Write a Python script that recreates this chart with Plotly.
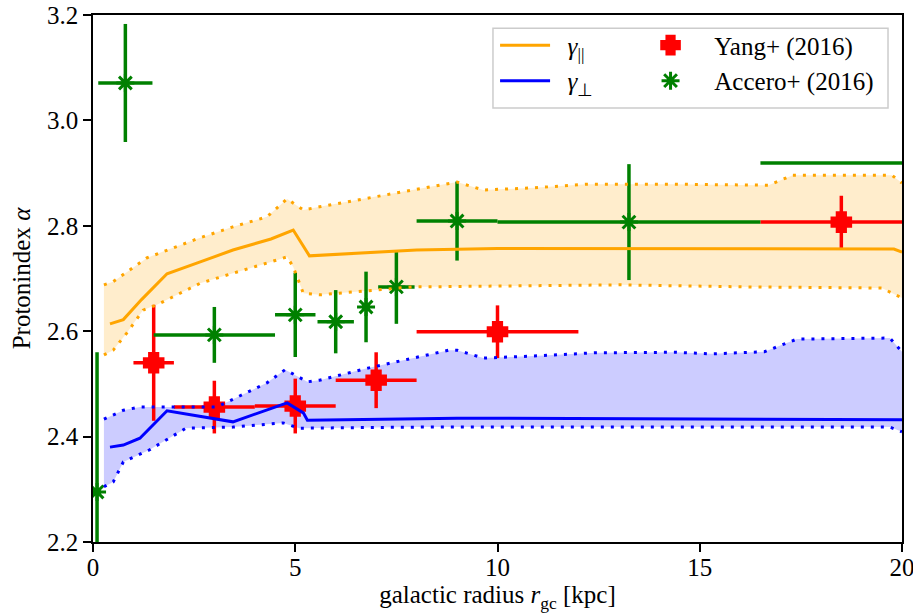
import plotly.graph_objects as go

# ---- gamma parallel (orange) ----
r_par = [0.42, 0.75, 1.2, 1.83, 2.6, 3.46, 4.4, 4.95, 5.35, 6.5, 8, 10, 12, 14, 16, 18, 19.8, 20]
a_par = [2.614, 2.622, 2.66, 2.709, 2.73, 2.754, 2.775, 2.792, 2.743, 2.748, 2.754, 2.757, 2.757, 2.756, 2.757, 2.756, 2.756, 2.750]
r_par_hi = [0.27, 0.5, 1.33, 1.83, 2.6, 3.46, 4.3, 4.8, 5.2, 5.6, 7.3, 9.0, 9.65, 10.9, 12.2, 14.3, 16.7, 17.3, 19.75, 20]
a_par_hi = [2.688, 2.694, 2.739, 2.754, 2.776, 2.798, 2.817, 2.851, 2.830, 2.836, 2.86, 2.883, 2.868, 2.872, 2.879, 2.879, 2.877, 2.896, 2.896, 2.881]
r_par_lo = [0.27, 0.5, 0.83, 1.24, 1.58, 2.65, 3.46, 4.3, 4.8, 4.95, 5.2, 5.6, 7.9, 13, 16.2, 19.5, 20]
a_par_lo = [2.555, 2.564, 2.596, 2.64, 2.65, 2.691, 2.71, 2.729, 2.741, 2.722, 2.672, 2.669, 2.684, 2.688, 2.684, 2.682, 2.663]

# ---- gamma perpendicular (blue) ----
r_perp = [0.42, 0.75, 1.16, 1.83, 3.46, 4.8, 5.2, 5.3, 9.0, 14, 20]
a_perp = [2.380, 2.384, 2.397, 2.449, 2.428, 2.464, 2.445, 2.431, 2.435, 2.434, 2.432]
r_perp_hi = [0.27, 0.75, 1.16, 3.06, 4.3, 4.75, 5.3, 5.6, 6.8, 8.8, 9.0, 9.65, 10.9, 12.4, 14.4, 15.3, 16.6, 17.4, 19.7, 20]
a_perp_hi = [2.433, 2.450, 2.456, 2.456, 2.502, 2.527, 2.504, 2.507, 2.530, 2.564, 2.564, 2.549, 2.553, 2.559, 2.560, 2.557, 2.561, 2.585, 2.587, 2.561]
r_perp_lo = [0.27, 0.5, 0.75, 1.4, 2.3, 3.46, 4.7, 5.1, 8, 14, 19.7, 20]
a_perp_lo = [2.305, 2.314, 2.352, 2.375, 2.416, 2.418, 2.426, 2.416, 2.418, 2.418, 2.418, 2.409]

# ---- Yang+ (2016) ----
yang_r = [1.5, 3.0, 5.0, 7.0, 10.0, 18.5]
yang_a = [2.540, 2.456, 2.458, 2.507, 2.599, 2.807]
yang_xerr = [0.5, 1.0, 1.0, 1.0, 2.0, 2.0]
yang_yerr = [0.11, 0.05, 0.052, 0.053, 0.05, 0.05]

# ---- Accero+ (2016) ----
acc_r = [0.1, 0.8, 3.0, 5.0, 6.0, 6.75, 7.5, 9.0, 13.25, 24.5]
acc_a = [2.295, 3.071, 2.593, 2.631, 2.618, 2.646, 2.684, 2.809, 2.807, 2.919]
acc_xerr = [0.1, 0.67, 1.5, 0.5, 0.45, 0.1, 0.45, 1.0, 3.25, 8.0]
acc_yerr = [0.265, 0.112, 0.053, 0.08, 0.06, 0.067, 0.07, 0.075, 0.11, 0.1]

x_ticks = [0, 5, 10, 15, 20]
y_ticks = [2.2, 2.4, 2.6, 2.8, 3.0, 3.2]

ORANGE = "#FFA500"
BLUE = "#0000FF"
RED = "#FF0000"
GREEN = "#008000"
FONT = "Liberation Serif"
FS = 25
DOT = "3px,7px"
NB = "\u00a0"
LW = 3
EW = 3.5

fig = go.Figure()

# bands
fig.add_trace(go.Scatter(x=r_par_hi + r_par_lo[::-1], y=a_par_hi + a_par_lo[::-1],
                         fill="toself", fillcolor="rgba(255,165,0,0.2)", mode="none",
                         showlegend=False, hoverinfo="skip"))
fig.add_trace(go.Scatter(x=r_perp_hi + r_perp_lo[::-1], y=a_perp_hi + a_perp_lo[::-1],
                         fill="toself", fillcolor="rgba(0,0,255,0.2)", mode="none",
                         showlegend=False, hoverinfo="skip"))

# data points
fig.add_trace(go.Scatter(x=yang_r, y=yang_a, mode="markers", name=NB * 3 + "Yang+ (2016)",
                         legend="legend2",
                         marker=dict(symbol="cross", size=13, color=RED, line=dict(color=RED, width=6)),
                         error_x=dict(type="data", array=yang_xerr, color=RED, thickness=EW, width=0),
                         error_y=dict(type="data", array=yang_yerr, color=RED, thickness=EW, width=0)))
fig.add_trace(go.Scatter(x=acc_r, y=acc_a, mode="markers", name=NB * 3 + "Accero+ (2016)",
                         legend="legend2",
                         marker=dict(symbol="asterisk-open", size=15, color=GREEN, line=dict(color=GREEN, width=3)),
                         error_x=dict(type="data", array=acc_xerr, color=GREEN, thickness=EW, width=0),
                         error_y=dict(type="data", array=acc_yerr, color=GREEN, thickness=EW, width=0)))

# lines
fig.add_trace(go.Scatter(x=r_par, y=a_par, mode="lines", name=NB * 2 + "<i>γ</i><sub>||</sub>",
                         line=dict(color=ORANGE, width=LW), legend="legend"))
fig.add_trace(go.Scatter(x=r_perp, y=a_perp, mode="lines", name=NB * 2 + "<i>γ</i><sub>⊥</sub>",
                         line=dict(color=BLUE, width=LW), legend="legend"))
fig.add_trace(go.Scatter(x=r_par_hi, y=a_par_hi, mode="lines", showlegend=False,
                         line=dict(color=ORANGE, width=LW, dash=DOT)))
fig.add_trace(go.Scatter(x=r_par_lo, y=a_par_lo, mode="lines", showlegend=False,
                         line=dict(color=ORANGE, width=LW, dash=DOT)))
fig.add_trace(go.Scatter(x=r_perp_hi, y=a_perp_hi, mode="lines", showlegend=False,
                         line=dict(color=BLUE, width=LW, dash=DOT)))
fig.add_trace(go.Scatter(x=r_perp_lo, y=a_perp_lo, mode="lines", showlegend=False,
                         line=dict(color=BLUE, width=LW, dash=DOT)))

axis_common = dict(showline=True, mirror=True, linecolor="black", linewidth=1.5,
                   ticks="outside", ticklen=8, tickwidth=1.5, tickcolor="black",
                   showgrid=False, zeroline=False, automargin=False,
                   ticklabeloverflow="allow",
                   tickfont=dict(family=FONT, size=FS, color="black"))

fig.update_layout(
    width=913, height=615,
    margin=dict(l=93, r=11, t=15, b=73),
    plot_bgcolor="white", paper_bgcolor="white",
    font=dict(family=FONT, size=FS, color="black"),
    xaxis=dict(range=[0, 20], tickvals=x_ticks, ticktext=[str(v) for v in x_ticks],
               ticklabelstandoff=-6,
               title=dict(text="galactic radius <i>r</i><sub>gc</sub> [kpc]",
                          font=dict(family=FONT, size=FS), standoff=6),
               **axis_common),
    yaxis=dict(range=[2.2, 3.2], tickvals=y_ticks, ticktext=[f"{v:.1f}" for v in y_ticks],
               **axis_common),
    annotations=[dict(text="Protonindex <i>α</i>", xref="paper", yref="paper",
                      x=-0.088, y=0.5, xanchor="center", yanchor="middle", textangle=-90,
                      showarrow=False, font=dict(family=FONT, size=FS, color="black"))],
    legend=dict(x=0.497, y=0.986, xanchor="left", yanchor="top", bgcolor="rgba(0,0,0,0)",
                borderwidth=0, itemwidth=50, font=dict(family=FONT, size=FS), tracegroupgap=0),
    legend2=dict(x=0.683, y=0.986, xanchor="left", yanchor="top", bgcolor="rgba(0,0,0,0)",
                 borderwidth=0, itemwidth=40, font=dict(family=FONT, size=FS), tracegroupgap=0),
    shapes=[dict(type="rect", xref="paper", yref="paper", x0=0.4944, x1=0.9827, y0=0.8235, y1=0.975,
                 line=dict(color="#cccccc", width=1.5), fillcolor="rgba(255,255,255,0.8)", layer="above")],
)

fig.write_html("out.html", config={"displayModeBar": False},
               post_script="document.body.style.margin='0px';")
